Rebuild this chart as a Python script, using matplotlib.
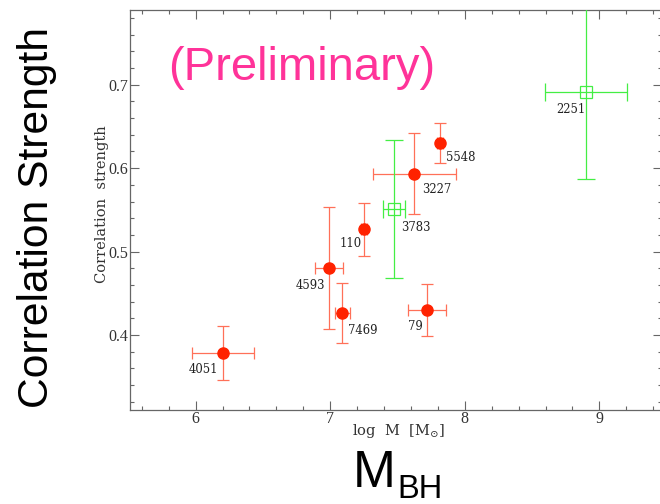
import matplotlib
matplotlib.use("Agg")
import matplotlib.pyplot as plt
from matplotlib.ticker import MultipleLocator, FormatStrFormatter

plt.rcParams["mathtext.fontset"] = "dejavuserif"

# Galaxies with filled red markers
red_names = ["4051", "4593", "7469", "110", "3227", "5548", "79"]
red_mass = [6.20, 6.99, 7.09, 7.25, 7.625, 7.817, 7.72]
red_mass_err = [0.23, 0.106, 0.055, 0.02, 0.306, 0.02, 0.14]
red_corr = [0.378, 0.480, 0.426, 0.527, 0.5935, 0.630, 0.4295]
red_corr_lo = [0.032, 0.073, 0.036, 0.032, 0.048, 0.024, 0.031]
red_corr_hi = [0.033, 0.073, 0.036, 0.031, 0.049, 0.024, 0.031]

# Galaxies with open green squares
green_names = ["3783", "2251"]
green_mass = [7.472, 8.902]
green_mass_err = [0.083, 0.303]
green_corr = [0.551, 0.691]
green_corr_err = [0.083, 0.104]

# label placement (offset in pixels, alignment)
label_offsets = {
    "4051": (-4, -16, "right"),
    "4593": (-4, -17, "right"),
    "7469": (6, -17, "left"),
    "110": (-2, -14, "right"),
    "3227": (8, -16, "left"),
    "5548": (6, -14, "left"),
    "79": (-4, -16, "right"),
    "3783": (7, -18, "left"),
    "2251": (-1, -17, "right"),
}

RED = "#ff2200"
SALMON = "#ff7058"
GREEN = "#44ee44"
PINK = "#ff3399"
AXCOL = "#666666"

fig = plt.figure(figsize=(6.6, 5.04), dpi=100)
ax = fig.add_axes([0.1965, 0.1865, 0.8065, 0.7943])

ax.errorbar(red_mass, red_corr, xerr=red_mass_err, yerr=[red_corr_lo, red_corr_hi],
            fmt="o", color=RED, ms=8, mec=RED, ecolor=SALMON, elinewidth=0.9,
            capsize=4.3, capthick=0.9, zorder=3)
ax.errorbar(green_mass, green_corr, xerr=green_mass_err, yerr=green_corr_err,
            fmt="s", color=GREEN, ms=8.5, mfc="none", mec=GREEN, mew=0.9,
            ecolor=GREEN, elinewidth=0.9, capsize=6.3, capthick=0.9, zorder=3)

for names, xs, ys in [(red_names, red_mass, red_corr), (green_names, green_mass, green_corr)]:
    for n, x, y in zip(names, xs, ys):
        dx, dy, ha = label_offsets[n]
        ax.annotate(n, (x, y), textcoords="offset pixels", xytext=(dx, dy),
                    ha=ha, va="center", fontsize=8.4, family="DejaVu Serif",
                    color="#222222", zorder=4)

ax.set_xlim(5.51, 9.465)
ax.set_ylim(0.31, 0.79)
ax.xaxis.set_major_locator(MultipleLocator(1))
ax.xaxis.set_minor_locator(MultipleLocator(0.2))
ax.yaxis.set_major_locator(MultipleLocator(0.1))
ax.yaxis.set_minor_locator(MultipleLocator(0.02))
ax.xaxis.set_major_formatter(FormatStrFormatter("%d"))
ax.yaxis.set_major_formatter(FormatStrFormatter("%.1f"))
ax.tick_params(which="both", direction="in", top=True, right=True,
               color=AXCOL, width=0.8)
ax.tick_params(which="major", length=6.2, labelsize=11.5, pad=1, labelcolor="#333333")
ax.tick_params(which="minor", length=3.2)
for lbl in ax.get_xticklabels() + ax.get_yticklabels():
    lbl.set_family("Liberation Serif")
for sp in ax.spines.values():
    sp.set_color(AXCOL)
    sp.set_linewidth(0.9)

# axis titles in the inner plot
fig.text(0.1545, 0.595, "Correlation  strength", rotation=90, ha="center", va="center",
         fontsize=10.5, family="DejaVu Serif", color="#333333")
fig.text(0.603, 0.1448, r"log  M  [M$_{\odot}$]", ha="center", va="center",
         fontsize=10.5, family="DejaVu Serif", color="#333333")

# slide-style annotations
fig.text(0.0556, 0.5685, "Correlation Strength", rotation=90, ha="center", va="center",
         fontsize=30.7, family="Liberation Sans", color="black")
fig.text(0.5344, 0.0332, "M", ha="left", va="baseline",
         fontsize=37, family="Liberation Sans", color="black")
fig.text(0.6023, 0.0125, "BH", ha="left", va="baseline",
         fontsize=23.5, family="Liberation Sans", color="black")
ax.text(0.254, 0.841, "(Preliminary)", transform=fig.transFigure, ha="left",
        va="baseline", fontsize=34, family="Liberation Sans", color=PINK)

fig.savefig("out.png", dpi=100)
